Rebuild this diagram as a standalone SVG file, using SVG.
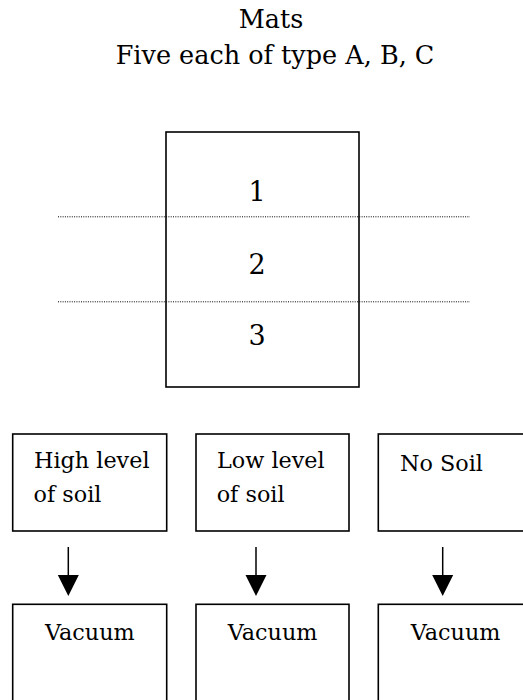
<svg xmlns="http://www.w3.org/2000/svg" width="523" height="700" viewBox="0 0 523 700">
<style>
  text { font-family: "DejaVu Serif", "Liberation Serif", serif; fill: #000; }
  .title { font-size: 25.5px; text-anchor: middle; }
  .digit { font-size: 27px; text-anchor: middle; }
  .lbl { font-size: 22.3px; }
  .box { fill: #fff; stroke: #000; stroke-width: 1.6; }
  .dot { stroke: #000; stroke-width: 1; stroke-dasharray: 1 1.3; fill: none; }
  .shaft { stroke: #000; stroke-width: 1.5; fill: none; }
</style>
<rect width="523" height="700" fill="#fff"/>
<g id="title">
  <text class="title" x="271" y="28">Mats</text>
  <text class="title" x="275" y="64">Five each of type A, B, C</text>
</g>
<g id="mat">
  <rect class="box" x="166" y="132" width="193" height="255"/>
  <text class="digit" x="257" y="200.5">1</text>
  <text class="digit" x="257" y="274">2</text>
  <text class="digit" x="257" y="345">3</text>
</g>
<g id="dividers">
  <line class="dot" x1="58" y1="216.8" x2="470" y2="216.8"/>
  <line class="dot" x1="58" y1="301.8" x2="470" y2="301.8"/>
</g>
<g id="high">
  <rect class="box" x="12.7" y="434" width="154" height="97"/>
  <text class="lbl" x="34" y="468">High level</text>
  <text class="lbl" x="33.5" y="502">of soil</text>
</g>
<g id="low">
  <rect class="box" x="196" y="434" width="153" height="97"/>
  <text class="lbl" x="217" y="468">Low level</text>
  <text class="lbl" x="216.7" y="502">of soil</text>
</g>
<g id="nosoil">
  <rect class="box" x="378.3" y="434" width="154" height="97"/>
  <text class="lbl" x="400" y="470.5">No Soil</text>
</g>
<g id="vac1">
  <rect class="box" x="12.7" y="604.3" width="154" height="98"/>
  <text class="lbl" x="45" y="640">Vacuum</text>
</g>
<g id="vac2">
  <rect class="box" x="196" y="604.3" width="153" height="98"/>
  <text class="lbl" x="227.7" y="640">Vacuum</text>
</g>
<g id="vac3">
  <rect class="box" x="378.3" y="604.3" width="154" height="98"/>
  <text class="lbl" x="410.7" y="640">Vacuum</text>
</g>
<g id="connectors">
  <line class="shaft" x1="68.3" y1="547" x2="68.3" y2="576"/>
  <polygon points="57.8,575 78.8,575 68.3,596" fill="#000"/>
  <line class="shaft" x1="256" y1="547" x2="256" y2="576"/>
  <polygon points="245.5,575 266.5,575 256,596" fill="#000"/>
  <line class="shaft" x1="442.7" y1="547" x2="442.7" y2="576"/>
  <polygon points="432.2,575 453.2,575 442.7,596" fill="#000"/>
</g>
</svg>
